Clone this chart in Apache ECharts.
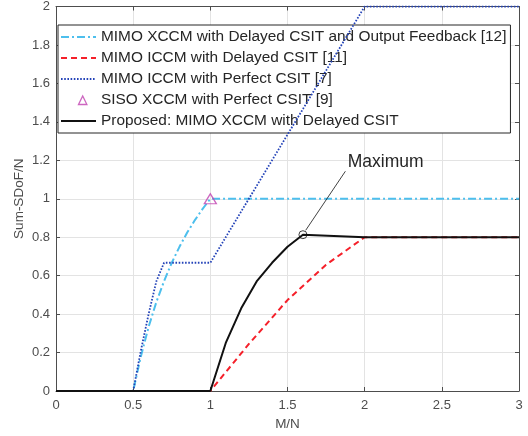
<!DOCTYPE html>
<html><head><meta charset="utf-8">
<script src="https://cdn.jsdelivr.net/npm/echarts@6/dist/echarts.min.js"></script>
<style>html,body{margin:0;padding:0;background:#fff}#c{width:528px;height:436px}</style>
</head><body><div id="c"></div>
<script>
// ---- data ----
const seriesNames = [
  'MIMO XCCM with Delayed CSIT and Output Feedback [12]',
  'MIMO ICCM with Delayed CSIT [11]',
  'MIMO ICCM with Perfect CSIT [7]',
  'SISO XCCM with Perfect CSIT [9]',
  'Proposed: MIMO XCCM with Delayed CSIT'
];
const cyanX = [0, 0.5, 0.55, 0.6, 0.65, 0.7, 0.75, 0.8, 0.85, 0.9, 0.95, 1, 3];
const cyanY = [0, 0, 0.18, 0.333, 0.462, 0.571, 0.667, 0.75, 0.824, 0.889, 0.947, 1, 1];
const redX = [0, 1, 1.25, 1.5, 1.75, 2, 3];
const redY = [0, 0, 0.245, 0.473, 0.657, 0.8, 0.8];
const blueX = [0, 0.5, 0.55, 0.6, 0.65, 0.7, 1, 2, 3];
const blueY = [0, 0, 0.21, 0.40, 0.57, 0.667, 0.667, 2, 2];
const sisoX = [1];
const sisoY = [1];
const blackX = [0, 1, 1.1, 1.2, 1.3, 1.4, 1.5, 1.6, 2, 3];
const blackY = [0, 0, 0.25, 0.43, 0.57, 0.667, 0.75, 0.813, 0.8, 0.8];
const maxX = [1.6];
const maxY = [0.813];
const arrowFrom = [1.618, 0.836];
const arrowTo = [1.875, 1.143];
const annotText = 'Maximum';
const annotPos = [1.89, 1.19];
const xName = 'M/N';
const yName = 'Sum-SDoF/N';

const pairs = (xs, ys) => xs.map((x, i) => [x, ys[i]]);
const FONT = 'Liberation Sans, Arial, Helvetica, sans-serif';
const AX = '#4d4d4d';
const HIDE = { color: 'rgba(0,0,0,0)', borderColor: 'rgba(0,0,0,0)', borderWidth: 0, opacity: 0 };

const baseAxis = {
  type: 'value',
  axisLine: { show: true, onZero: false, lineStyle: { color: AX, width: 1 } },
  axisTick: { show: true, inside: true, length: 4, lineStyle: { color: AX } },
  axisLabel: { color: AX, fontSize: 13, fontFamily: FONT },
  splitLine: { show: true, lineStyle: { color: '#e3e3e3', width: 1 } }
};

const chart = echarts.init(document.getElementById('c'), null, { renderer: 'canvas' });
chart.setOption({
  animation: false,
  backgroundColor: '#fff',
  grid: { left: 56, right: 9, top: 6, bottom: 45, containLabel: false },
  legend: {
    orient: 'vertical', left: 58, top: 25,
    backgroundColor: '#fff', borderColor: '#262626', borderWidth: 1,
    padding: [4, 4, 4, 2],
    itemWidth: 35, itemHeight: 14, itemGap: 5,
    selectedMode: false,
    textStyle: { fontSize: 15.4, lineHeight: 16, color: '#262626', fontFamily: FONT },
    data: [
      { name: seriesNames[0], itemStyle: HIDE },
      { name: seriesNames[1], itemStyle: HIDE },
      { name: seriesNames[2], itemStyle: HIDE },
      { name: seriesNames[3],
        icon: 'path://M0,0L0,0M35,14L35,14M17.5,11.5L21.7,3L25.9,11.5Z',
        itemStyle: { color: 'rgba(0,0,0,0)', borderColor: '#C040B0', borderWidth: 1.3 } },
      { name: seriesNames[4], itemStyle: HIDE }
    ]
  },
  xAxis: [
    Object.assign({}, baseAxis, {
      position: 'bottom', min: 0, max: 3, interval: 0.5,
      axisLabel: Object.assign({}, baseAxis.axisLabel, { margin: 8 }),
      name: xName, nameLocation: 'middle', nameGap: 26, nameMoveOverlap: false,
      nameTextStyle: { fontSize: 13.5, color: AX, fontFamily: FONT }
    }),
    Object.assign({}, baseAxis, {
      position: 'top', min: 0, max: 3, interval: 0.5,
      axisLabel: { show: false }, splitLine: { show: false }
    })
  ],
  yAxis: [
    Object.assign({}, baseAxis, {
      position: 'left', min: 0, max: 2, interval: 0.2,
      axisLabel: Object.assign({}, baseAxis.axisLabel, { margin: 6 }),
      name: yName, nameLocation: 'middle', nameGap: 30, nameMoveOverlap: false,
      nameTextStyle: { fontSize: 13.5, color: AX, fontFamily: FONT }
    }),
    Object.assign({}, baseAxis, {
      position: 'right', min: 0, max: 2, interval: 0.2,
      axisLabel: { show: false }, splitLine: { show: false }
    })
  ],
  series: [
    { name: seriesNames[0], type: 'line', data: pairs(cyanX, cyanY), symbol: 'none',
      lineStyle: { color: '#4DBFED', width: 2, type: [8, 3, 2, 3] }, itemStyle: { color: '#4DBFED' }, z: 2 },
    { name: seriesNames[1], type: 'line', data: pairs(redX, redY), symbol: 'none',
      lineStyle: { color: '#F5202A', width: 2, type: [6, 4] }, itemStyle: { color: '#F5202A' }, z: 3 },
    { name: seriesNames[2], type: 'line', data: pairs(blueX, blueY), symbol: 'none',
      lineStyle: { color: '#2443B8', width: 1.8, type: [1.6, 1.6] }, itemStyle: { color: '#2443B8' }, z: 4 },
    { name: seriesNames[3], type: 'scatter', data: pairs(sisoX, sisoY), symbol: 'triangle', symbolSize: [12, 10],
      itemStyle: { color: 'rgba(0,0,0,0)', borderColor: '#C040B0', borderWidth: 1.3 }, z: 5 },
    { name: seriesNames[4], type: 'line', data: pairs(blackX, blackY), symbol: 'none',
      lineStyle: { color: '#111', width: 2 }, itemStyle: { color: '#111' }, z: 6 },
    { name: 'max', type: 'scatter', data: pairs(maxX, maxY), symbol: 'circle', symbolSize: 8,
      itemStyle: { color: 'rgba(0,0,0,0)', borderColor: '#111', borderWidth: 1 }, z: 7, silent: true,
      markLine: {
        silent: true, symbol: ['none', 'arrow'], symbolSize: [0, 11],
        lineStyle: { color: '#111', width: 0.8, type: 'solid' }, label: { show: false },
        data: [[{ coord: arrowFrom }, { coord: arrowTo }]]
      },
      markPoint: {
        silent: true, symbol: 'circle', symbolSize: 0,
        label: { show: true, position: 'right', distance: 0, formatter: annotText,
                 fontSize: 17.5, color: '#262626', fontFamily: FONT },
        data: [{ coord: annotPos }]
      }
    }
  ]
});
</script></body></html>
